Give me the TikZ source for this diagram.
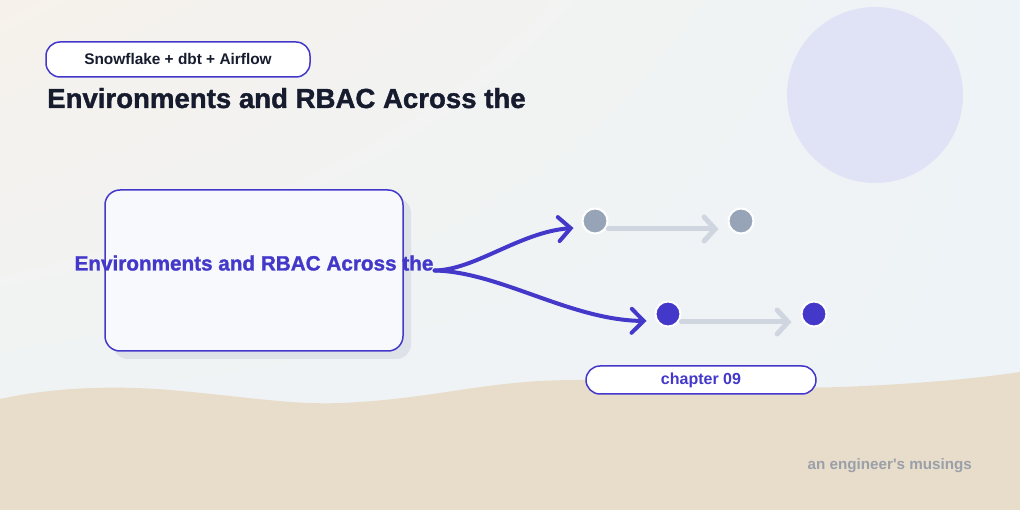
\documentclass[tikz,border=0pt]{standalone}
\usepackage{fontspec}
\setmainfont{Liberation Sans}[Ligatures=TeXOff]
\newfontfamily\heavyfont{Liberation Sans}[BoldFeatures={FakeBold=1.3}]
\usepackage{tikz}
\usetikzlibrary{arrows.meta,shadows,shadings,positioning}
\definecolor{ink}{HTML}{4338CA}
\definecolor{navy}{HTML}{161B2E}
\definecolor{slatedot}{HTML}{97A3B6}
\definecolor{slateline}{HTML}{CFD6E0}
\definecolor{muted}{HTML}{9AA0A8}
\definecolor{boxfill}{HTML}{F7F9FC}
\definecolor{shadowgrey}{HTML}{DDE2E8}
\definecolor{sand}{HTML}{E8DCCA}
\definecolor{moon}{HTML}{E0E3F6}
\definecolor{bgwarm}{HTML}{F6F2EB}
\definecolor{bgcool}{HTML}{EEF3F7}
\tikzset{basic/.style={draw=ink,line width=1.5pt,fill=white,
                       text badly centered,inner sep=0pt}}
\tikzset{pill/.style={basic,rounded corners=14pt}}
\tikzset{card/.style={basic,fill=boxfill,rounded corners=15pt,
                      minimum width=298pt,minimum height=161pt,
                      drop shadow={shadow xshift=8pt,shadow yshift=-8pt,
                                   fill=shadowgrey,opacity=1}}}
\tikzset{dot/.style={circle,draw=white,line width=2pt,
                     minimum size=25pt,inner sep=0pt}}
\tikzset{flow/.style={ink,line width=4pt,line cap=round,
                      -{Straight Barb[length=12pt,width=24pt,line cap=round]}}}
\tikzset{fade/.style={slateline,line width=5pt,line cap=round,
                      -{Straight Barb[length=11pt,width=24pt,line cap=round]}}}

\begin{document}
\begin{tikzpicture}[x=1pt,y=-1pt]
    \useasboundingbox (0,0) rectangle (1020,510);
    % Draw background, moon and sand
    \shade[upper left=bgwarm,upper right=bgcool,
           lower left=bgcool,lower right=bgcool] (0,0) rectangle (1020,510);
    \fill[moon] (875,95) circle (88);
    \fill[sand] (0,399) .. controls (50,388) and (110,385) .. (170,390)
        .. controls (240,396) and (290,405) .. (340,403)
        .. controls (420,400) and (470,385) .. (540,381)
        .. controls (640,376) and (760,390) .. (840,387)
        .. controls (920,384) and (980,378) .. (1020,372)
        -- (1020,510) -- (0,510) -- cycle;
    % Draw header
    \node[pill,minimum width=264pt,minimum height=35pt,
          font=\fontsize{15.4}{18}\selectfont\bfseries,text=navy]
          (stack) at (178,59.5) {Snowflake + dbt + Airflow};
    \node[anchor=base west,inner sep=0pt,text=navy,
          font=\heavyfont\fontsize{27.6}{32}\selectfont\bfseries]
          (title) at (47,108) {Environments and RBAC Across the};
    % Draw card with its label
    \node[card] (card) at (254,270.5) {};
    \node[anchor=base,inner sep=0pt,text=ink,
          font=\heavyfont\fontsize{20.7}{24}\selectfont\bfseries]
          (cardlabel) at (card.center) {Environments and RBAC Across the};
    \coordinate (fork) at ([xshift=1pt]cardlabel.base east);
    % Draw dots
    \foreach \x [count=\xi] in {595,741}{%
          \node[dot,fill=slatedot] (g\xi) at (\x,221) {};
          \node[dot,fill=ink] (b\xi) at (\x+73,314) {};
        }
    % Draw branches from card to first dots
    \draw[flow] (fork) .. controls (475,270) and (520,232) ..
        ([xshift=-8pt,yshift=-7pt]g1.west);
    \draw[flow] (fork) .. controls (500,272) and (570,320) ..
        ([xshift=-8pt,yshift=-7pt]b1.west);
    % Connect dots
    \draw[fade,shorten >=9pt] ([yshift=-8pt]g1.east) -- ([yshift=-8pt]g2.west);
    \draw[fade,shorten >=9pt] ([yshift=-8pt]b1.east) -- ([yshift=-8pt]b2.west);
    % Labels
    \node[pill,minimum width=230pt,minimum height=28pt,text=ink,
          font=\fontsize{16}{19}\selectfont\bfseries]
          (chapter) at (701,380) {chapter 09};
    \node[anchor=base east,inner sep=0pt,text=muted,
          font=\fontsize{15.2}{18}\selectfont\bfseries]
          (musings) at (972,469) {an engineer's musings};
\end{tikzpicture}
\end{document}
